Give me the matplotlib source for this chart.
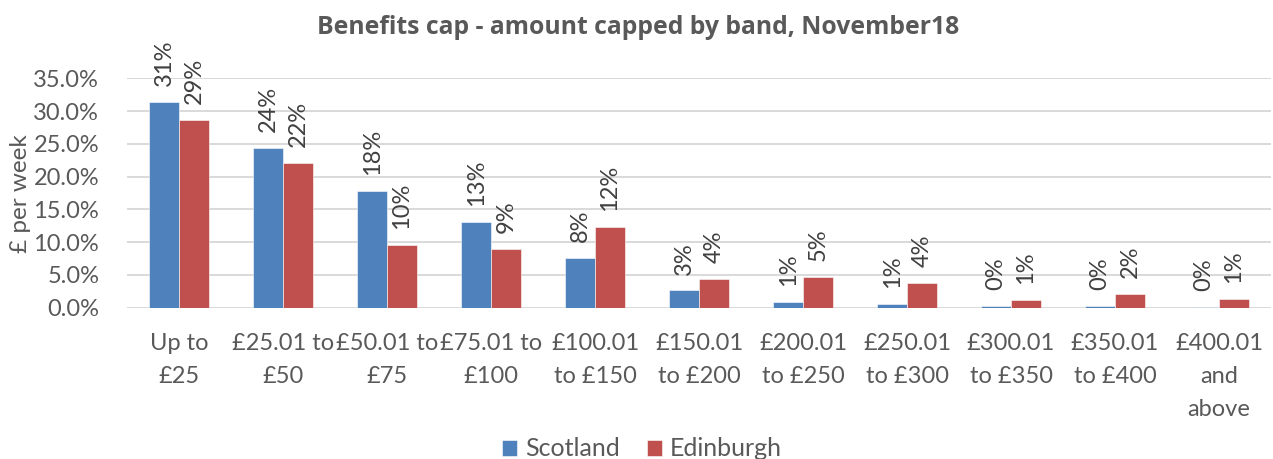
import matplotlib
matplotlib.use("Agg")
import matplotlib.pyplot as plt
import numpy as np
from matplotlib.ticker import MultipleLocator, FuncFormatter

# Benefit cap bands (£ per week) and share of capped households in each
bands = [
    "Up to\n£25", "£25.01 to\n£50", "£50.01 to\n£75", "£75.01 to\n£100",
    "£100.01\nto £150", "£150.01\nto £200", "£200.01\nto £250",
    "£250.01\nto £300", "£300.01\nto £350", "£350.01\nto £400",
    "£400.01\nand\nabove",
]
scotland = [31.35, 24.3, 17.8, 13.0, 7.6, 2.6, 0.9, 0.6, 0.2, 0.2, 0.1]
edinburgh = [28.6, 22.1, 9.6, 9.0, 12.3, 4.3, 4.6, 3.7, 1.1, 2.0, 1.3]
series_names = ["Scotland", "Edinburgh"]

BLUE = "#4F81BD"
RED = "#C0504D"
TEXT = "#595959"
LABEL = "#404040"
GRID = "#D9D9D9"

plt.rcParams["font.family"] = ["Lato", "DejaVu Sans"]

fig = plt.figure(figsize=(12.73, 4.59), dpi=100)
ax = fig.add_axes([127 / 1273, 1 - 307.5 / 459, 1144 / 1273, (307.5 - 78.3) / 459])

x = np.arange(len(bands))
w = 0.288
b1 = ax.bar(x - w / 2, scotland, w, color=BLUE, edgecolor="white", linewidth=0.4,
            label=series_names[0], zorder=3)
b2 = ax.bar(x + w / 2, edinburgh, w, color=RED, edgecolor="white", linewidth=0.4,
            label=series_names[1], zorder=3)


def pct(v):
    return f"{int(np.floor(v + 0.5))}%"


for bars, vals in ((b1, scotland), (b2, edinburgh)):
    for rect, v in zip(bars, vals):
        ax.annotate(pct(v), (rect.get_x() + rect.get_width() / 2, v),
                    xytext=(0, 11.5), textcoords="offset points",
                    rotation=90, ha="center", va="bottom",
                    fontsize=17, color=LABEL, zorder=4)

ax.set_xlim(-0.5, len(bands) - 0.5)
ax.set_ylim(0, 35)
ax.yaxis.set_major_locator(MultipleLocator(5))
ax.yaxis.set_major_formatter(FuncFormatter(lambda v, _: f"{v:.1f}%"))
ax.set_xticks(x)
ax.set_xticklabels(bands, linespacing=1.72)

ax.grid(axis="y", color=GRID, linewidth=1.4, zorder=0)
ax.set_axisbelow(True)
for s in ax.spines.values():
    s.set_visible(False)
ax.tick_params(axis="both", length=0, colors=TEXT, labelsize=17)
ax.tick_params(axis="x", pad=18)
ax.tick_params(axis="y", pad=20)

fig.text(21 / 1273, 1 - 194 / 459, "£ per week", rotation=90, ha="center",
         va="center", fontsize=17.5, color=TEXT)

fig.text(638 / 1273, 1 - 27 / 459,
         "Benefits cap - amount capped by band, November18",
         ha="center", va="center", fontsize=17.8, fontweight="bold", color=TEXT,
         family=["Open Sans", "DejaVu Sans"])

fig.legend(handles=[b1, b2], labels=series_names, loc="center",
           bbox_to_anchor=(642 / 1273, 1 - 449 / 459), ncol=2, frameon=False,
           fontsize=18, handlelength=0.6, handleheight=0.6, handletextpad=0.3,
           columnspacing=1.1, labelcolor=TEXT, borderaxespad=0, borderpad=0)

fig.savefig("out.png", dpi=100)
